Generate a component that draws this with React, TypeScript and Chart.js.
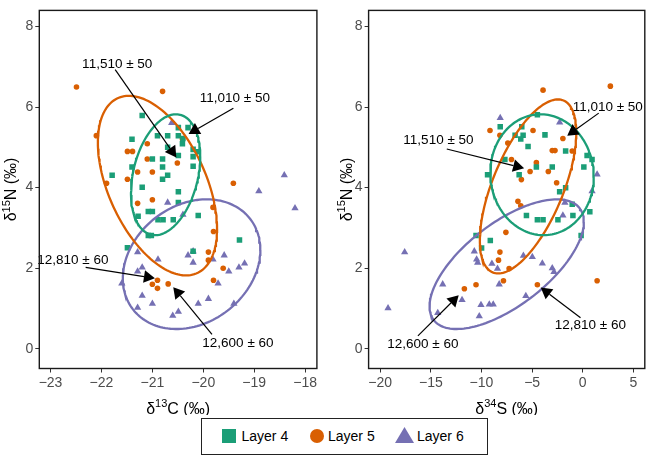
import React, { useEffect, useRef } from "react";
import { Chart, registerables } from "chart.js";
Chart.register(...registerables);

type Pt = [number, number];
type Ell = { cx: number; cy: number; sx: number; sy: number; r: number };
type Note = { text: string; tx: number; ty: number; x0: number; y0: number; x1: number; y1: number };

const FONT = '"Liberation Sans", Arial, Helvetica, sans-serif';
const seriesNames = ["Layer 4", "Layer 5", "Layer 6"];
const seriesColors = ["#1B9E77", "#D95F02", "#7570B3"];

const yTicks = [0, 2, 4, 6, 8];
const leftXTicks = [-23, -22, -21, -20, -19, -18];
const rightXTicks = [-20, -15, -10, -5, 0, 5];

// Left panel: δ13C vs δ15N
const leftLayer4: Pt[] = [
  [-21.2, 5.79], [-20.49, 5.49], [-20.3, 5.49], [-21.4, 5.2], [-20.9, 5.29], [-20.7, 5.29], [-20.49, 5.29],
  [-20.41, 5.09], [-20.4, 5.22], [-20.7, 5.0], [-20.49, 4.8], [-20.2, 4.95], [-20.1, 4.89], [-20.2, 4.77],
  [-21.0, 4.71], [-20.8, 4.71], [-21.4, 4.51], [-20.8, 4.51], [-20.2, 4.53], [-20.7, 4.31], [-21.79, 4.31],
  [-20.8, 4.21], [-21.2, 4.01], [-20.49, 3.9], [-20.49, 3.63], [-21.08, 3.41], [-21.0, 3.41], [-21.28, 3.29],
  [-20.1, 3.31], [-20.89, 3.2], [-20.79, 3.2], [-20.59, 3.2], [-21.08, 2.81], [-21.02, 2.81], [-19.29, 2.7],
  [-21.49, 2.51], [-20.2, 2.42],
];
const leftLayer5: Pt[] = [
  [-22.49, 6.5], [-20.8, 6.39], [-22.1, 5.29], [-21.1, 5.09], [-20.41, 5.21], [-21.49, 4.9], [-21.39, 4.9],
  [-21.1, 4.71], [-20.51, 4.61], [-21.29, 4.39], [-21.0, 4.39], [-21.49, 4.21], [-21.9, 4.11], [-19.41, 4.11],
  [-21.29, 3.61], [-21.0, 3.7], [-19.81, 3.51], [-19.8, 2.91], [-19.9, 2.4], [-19.9, 2.2], [-19.61, 2.0],
  [-19.8, 1.7], [-20.9, 1.7], [-21.0, 1.6], [-20.9, 1.5], [-20.69, 1.61],
];
const leftLayer6: Pt[] = [
  [-20.62, 5.61], [-18.41, 4.31], [-18.91, 3.91], [-18.2, 3.49], [-20.7, 3.63], [-20.4, 3.33], [-21.29, 2.4],
  [-20.2, 2.42], [-20.3, 2.32], [-20.2, 2.14], [-19.59, 2.32], [-20.89, 2.22], [-19.81, 2.22], [-19.19, 2.12],
  [-19.3, 2.02], [-19.5, 1.92], [-21.2, 2.02], [-21.29, 1.92], [-19.71, 1.62], [-21.6, 1.62], [-21.2, 1.32],
  [-21.0, 1.12], [-21.29, 1.02], [-20.1, 1.12], [-19.9, 1.24], [-20.6, 0.82], [-20.49, 0.92], [-19.4, 1.12],
];

// Right panel: δ34S vs δ15N
const rightLayer4: Pt[] = [
  [-4.48, 5.81], [-8.15, 5.51], [-6.02, 5.51], [-6.68, 5.3], [-5.89, 5.3], [-3.73, 5.31], [-6.12, 5.21],
  [-5.4, 5.02], [-1.69, 4.91], [0.43, 4.8], [0.92, 4.7], [-7.69, 4.7], [-4.58, 4.51], [-3.01, 4.51],
  [-9.4, 4.32], [0.11, 4.51], [-6.28, 4.32], [-1.69, 4.0], [-2.28, 3.9], [-1.04, 3.59], [-5.56, 3.31],
  [-4.48, 3.2], [-3.92, 3.2], [-2.45, 3.2], [-0.97, 3.31], [0.7, 3.4], [-10.54, 2.81], [-9.13, 2.69],
  [-0.16, 2.81], [-9.99, 2.5],
];
const rightLayer5: Pt[] = [
  [-3.92, 6.42], [2.73, 6.52], [-9.16, 5.42], [-8.18, 5.3], [-4.91, 5.42], [-7.4, 5.11], [-1.96, 5.22],
  [-3.01, 4.92], [-2.74, 4.92], [-1.04, 4.91], [-7.04, 4.7], [-4.58, 4.62], [-5.2, 4.4], [-3.4, 4.4],
  [-6.06, 4.2], [-2.58, 4.12], [-6.4, 3.66], [-6.12, 3.55], [-7.59, 2.89], [-8.18, 2.4], [-8.32, 2.2],
  [-7.27, 1.99], [-7.83, 1.69], [1.42, 1.69], [-10.54, 1.59], [-11.69, 1.49], [-4.48, 1.59],
];
const rightLayer6: Pt[] = [
  [-8.15, 5.73], [-2.28, 5.62], [1.42, 4.33], [0.92, 3.91], [-1.76, 3.63], [-1.96, 3.31], [-17.59, 2.4],
  [-10.71, 2.42], [-10.48, 2.22], [-10.38, 2.14], [-8.97, 2.11], [-8.42, 1.99], [-5.86, 2.31], [-4.98, 2.28],
  [-3.99, 2.12], [-3.01, 2.0], [-2.84, 1.91], [-13.83, 1.6], [-8.25, 1.6], [-5.62, 1.31], [-11.92, 1.21],
  [-19.23, 1.01], [-10.05, 1.09], [-9.23, 1.1], [-8.84, 1.1], [-14.32, 0.89], [-10.22, 0.81],
];

// Confidence ellipses (center, sd, correlation)
const leftEllipses: Ell[] = [
  { cx: -20.74, cy: 4.32, sx: 0.68, sy: 1.5, r: 0.3 },
  { cx: -20.9, cy: 4.05, sx: 1.17, sy: 2.23, r: -0.48 },
  { cx: -20.23, cy: 2.1, sx: 1.35, sy: 1.61, r: 0.22 },
];
const rightEllipses: Ell[] = [
  { cx: -4.02, cy: 4.32, sx: 5.11, sy: 1.5, r: -0.03 },
  { cx: -5.4, cy: 4.03, sx: 4.76, sy: 2.16, r: 0.62 },
  { cx: -7.51, cy: 2.1, sx: 7.62, sy: 1.61, r: 0.65 },
];

const leftNotes: Note[] = [
  { text: "11,510 ± 50", tx: -21.69, ty: 7.05, x0: -21.73, y0: 6.93, x1: -20.53, y1: 4.75 },
  { text: "11,010 ± 50", tx: -19.38, ty: 6.21, x0: -19.41, y0: 5.97, x1: -20.29, y1: 5.33 },
  { text: "12,810 ± 60", tx: -22.56, ty: 2.19, x0: -22.31, y0: 2.02, x1: -20.95, y1: 1.75 },
  { text: "12,600 ± 60", tx: -19.32, ty: 0.13, x0: -19.83, y0: 0.36, x1: -20.59, y1: 1.53 },
];
const rightNotes: Note[] = [
  { text: "11,510 ± 50", tx: -14.25, ty: 5.17, x0: -13.43, y0: 4.96, x1: -5.79, y1: 4.48 },
  { text: "11,010 ± 50", tx: 2.47, ty: 6.0, x0: 1.58, y0: 5.85, x1: -1.53, y1: 5.29 },
  { text: "12,810 ± 60", tx: 0.75, ty: 0.58, x0: -0.22, y0: 0.77, x1: -4.15, y1: 1.52 },
  { text: "12,600 ± 60", tx: -15.79, ty: 0.12, x0: -16.28, y0: 0.32, x1: -12.25, y1: 1.33 },
];

const yTitle = { pre: "δ", sup: "15", post: "N (‰)" };
const leftXTitle = { pre: "δ", sup: "13", post: "C (‰)" };
const rightXTitle = { pre: "δ", sup: "34", post: "S (‰)" };

const pointStyles = ["rect", "circle", "triangle"];
const pointRadii = [3.9, 2.8, 4.2];

type Title = { pre: string; sup: string; post: string };
type PanelCfg = {
  series: Pt[][];
  ellipses: Ell[];
  notes: Note[];
  xMin: number;
  xMax: number;
  xTicks: number[];
  xTitle: Title;
  width: number;
  yAxisWidth: number;
  padRight: number;
  yTitleX: number;
};

function ellipsePoints(e: Ell) {
  const pts: { x: number; y: number }[] = [];
  const k = Math.sqrt(1 - e.r * e.r);
  for (let i = 0; i <= 160; i++) {
    const t = (i / 160) * 2 * Math.PI;
    pts.push({ x: e.cx + e.sx * Math.cos(t), y: e.cy + e.sy * (e.r * Math.cos(t) + k * Math.sin(t)) });
  }
  return pts;
}

const fmt = (v: number) => (v < 0 ? "\u2212" + Math.abs(v) : String(v));

function drawTitle(ctx: CanvasRenderingContext2D, t: Title, cx: number, cy: number, rotate: boolean) {
  ctx.save();
  ctx.translate(cx, cy);
  if (rotate) ctx.rotate(-Math.PI / 2);
  const big = `16px ${FONT}`;
  const small = `11px ${FONT}`;
  ctx.font = big;
  const w1 = ctx.measureText(t.pre).width;
  const w3 = ctx.measureText(t.post).width;
  ctx.font = small;
  const w2 = ctx.measureText(t.sup).width;
  let x = -(w1 + w2 + w3) / 2;
  const base = 5.5;
  ctx.fillStyle = "#000";
  ctx.textAlign = "left";
  ctx.textBaseline = "alphabetic";
  ctx.font = big;
  ctx.fillText(t.pre, x, base);
  x += w1;
  ctx.font = small;
  ctx.fillText(t.sup, x, base - 6.5);
  x += w2;
  ctx.font = big;
  ctx.fillText(t.post, x, base);
  ctx.restore();
}

const H = 415;

function Panel({ cfg, left }: { cfg: PanelCfg; left: number }) {
  const ref = useRef<HTMLCanvasElement>(null);
  useEffect(() => {
    if (!ref.current) return;
    const datasets: any[] = [];
    cfg.ellipses.forEach((e, i) =>
      datasets.push({
        label: seriesNames[i] + " ellipse",
        data: ellipsePoints(e),
        showLine: true,
        borderColor: seriesColors[i],
        borderWidth: 2.3,
        pointRadius: 0,
        fill: false,
        tension: 0,
        order: 0,
      })
    );
    cfg.series.forEach((s, i) =>
      datasets.push({
        label: seriesNames[i],
        data: s.map(([x, y]) => ({ x, y })),
        pointStyle: pointStyles[i],
        pointRadius: pointRadii[i],
        backgroundColor: seriesColors[i],
        borderColor: seriesColors[i],
        borderWidth: 0,
        showLine: false,
        order: 1,
      })
    );
    const deco = {
      id: "deco",
      afterDatasetsDraw(chart: any) {
        const ctx: CanvasRenderingContext2D = chart.ctx;
        const xs = chart.scales.x;
        const ys = chart.scales.y;
        ctx.save();
        for (const n of cfg.notes) {
          const x0 = xs.getPixelForValue(n.x0);
          const y0 = ys.getPixelForValue(n.y0);
          const x1 = xs.getPixelForValue(n.x1);
          const y1 = ys.getPixelForValue(n.y1);
          const ang = Math.atan2(y1 - y0, x1 - x0);
          const L = 11;
          const hw = L * Math.tan(Math.PI / 6);
          const bx = x1 - L * Math.cos(ang);
          const by = y1 - L * Math.sin(ang);
          ctx.strokeStyle = "#000";
          ctx.fillStyle = "#000";
          ctx.lineWidth = 1.2;
          ctx.beginPath();
          ctx.moveTo(x0, y0);
          ctx.lineTo(bx, by);
          ctx.stroke();
          ctx.beginPath();
          ctx.moveTo(x1, y1);
          ctx.lineTo(bx + hw * Math.sin(ang), by - hw * Math.cos(ang));
          ctx.lineTo(bx - hw * Math.sin(ang), by + hw * Math.cos(ang));
          ctx.closePath();
          ctx.fill();
          ctx.font = `13.5px ${FONT}`;
          ctx.textAlign = "center";
          ctx.textBaseline = "middle";
          ctx.fillText(n.text, xs.getPixelForValue(n.tx), ys.getPixelForValue(n.ty));
        }
        const a = chart.chartArea;
        ctx.strokeStyle = "#1a1a1a";
        ctx.lineWidth = 1.4;
        ctx.strokeRect(a.left, a.top, a.right - a.left, a.bottom - a.top);
        ctx.restore();
      },
      afterDraw(chart: any) {
        const a = chart.chartArea;
        drawTitle(chart.ctx, cfg.xTitle, (a.left + a.right) / 2, 408, false);
        drawTitle(chart.ctx, yTitle, cfg.yTitleX, (a.top + a.bottom) / 2, true);
      },
    };
    const tickFont = { family: FONT, size: 14 };
    const chart = new Chart(ref.current, {
      type: "scatter",
      data: { datasets },
      options: {
        animation: false,
        responsive: false,
        events: [],
        layout: { padding: { left: 0, right: cfg.padRight, top: 1.5, bottom: 0 } },
        plugins: { legend: { display: false }, tooltip: { enabled: false } },
        scales: {
          x: {
            type: "linear",
            position: "bottom",
            min: cfg.xMin,
            max: cfg.xMax,
            afterBuildTicks: (s: any) => {
              s.ticks = cfg.xTicks.map((v) => ({ value: v }));
            },
            afterFit: (s: any) => {
              s.height = H - 368.5;
            },
            ticks: {
              autoSkip: false,
              maxRotation: 0,
              minRotation: 0,
              padding: 2,
              color: "#4d4d4d",
              font: tickFont,
              callback: (v: any) => fmt(Number(v)),
            },
            grid: { display: true, drawOnChartArea: false, drawTicks: true, tickLength: 4, color: "#333", lineWidth: 1 },
            border: { display: false },
            title: { display: false },
          },
          y: {
            type: "linear",
            position: "left",
            min: -0.49,
            max: 8.4,
            afterBuildTicks: (s: any) => {
              s.ticks = yTicks.map((v) => ({ value: v }));
            },
            afterFit: (s: any) => {
              s.width = cfg.yAxisWidth;
            },
            ticks: {
              autoSkip: false,
              padding: 2,
              color: "#4d4d4d",
              font: tickFont,
              callback: (v: any) => fmt(Number(v)),
            },
            grid: { display: true, drawOnChartArea: false, drawTicks: true, tickLength: 4, color: "#333", lineWidth: 1 },
            border: { display: false },
            title: { display: false },
          },
        },
      } as any,
      plugins: [deco],
    });
    return () => chart.destroy();
  }, [cfg]);
  return (
    <canvas
      ref={ref}
      width={cfg.width}
      height={H}
      style={{ position: "absolute", left, top: 0, width: cfg.width, height: H }}
    />
  );
}

const leftCfg: PanelCfg = {
  series: [leftLayer4, leftLayer5, leftLayer6],
  ellipses: leftEllipses,
  notes: leftNotes,
  xMin: -23.22,
  xMax: -17.77,
  xTicks: leftXTicks,
  xTitle: leftXTitle,
  width: 330,
  yAxisWidth: 39.3,
  padRight: 330 - 316.9,
  yTitleX: 10.5,
};
const rightCfg: PanelCfg = {
  series: [rightLayer4, rightLayer5, rightLayer6],
  ellipses: rightEllipses,
  notes: rightNotes,
  xMin: -21.15,
  xMax: 6.13,
  xTicks: rightXTicks,
  xTitle: rightXTitle,
  width: 319,
  yAxisWidth: 38.6,
  padRight: 3,
  yTitleX: 16,
};

function Marker({ i }: { i: number }) {
  const c = seriesColors[i];
  if (i === 0) return <svg width={14} height={14}><rect x={0} y={0} width={14} height={14} fill={c} /></svg>;
  if (i === 1) return <svg width={14} height={14}><circle cx={7} cy={7} r={7} fill={c} /></svg>;
  return <svg width={19} height={16}><polygon points="9.5,0 19,16 0,16" fill={c} /></svg>;
}

const legendMarkerLeft = [20, 107.5, 193];
const legendTextLeft = [39.5, 126, 215];

export default function App() {
  return (
    <div style={{ position: "absolute", left: 0, top: 0, width: 649, height: 456, background: "#fff", overflow: "hidden" }}>
      <Panel cfg={leftCfg} left={0} />
      <Panel cfg={rightCfg} left={330} />
      <div
        style={{
          position: "absolute",
          left: 201,
          top: 418,
          width: 287,
          height: 37,
          border: "1.5px solid #222",
          boxSizing: "border-box",
          fontFamily: FONT,
          fontSize: 14,
          color: "#000",
        }}
      >
        {seriesNames.map((n, i) => (
          <React.Fragment key={n}>
            <div style={{ position: "absolute", left: legendMarkerLeft[i], top: i === 2 ? 8 : 9.5, lineHeight: 0 }}>
              <Marker i={i} />
            </div>
            <div style={{ position: "absolute", left: legendTextLeft[i], top: 8.5, lineHeight: "16px", whiteSpace: "nowrap" }}>
              {n}
            </div>
          </React.Fragment>
        ))}
      </div>
    </div>
  );
}
